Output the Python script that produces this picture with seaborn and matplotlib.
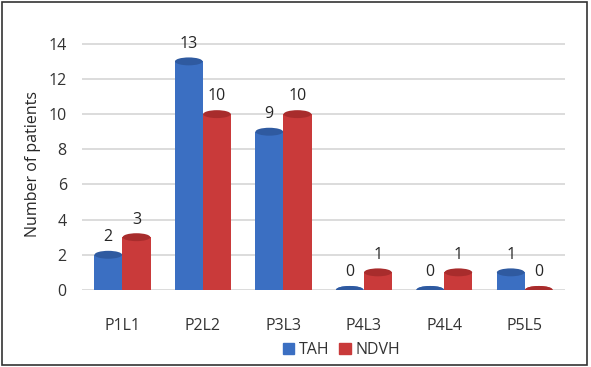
import pandas as pd
import matplotlib.pyplot as plt
import seaborn as sns
from matplotlib.patches import Ellipse, Rectangle

categories = ['P1L1', 'P2L2', 'P3L3', 'P4L3', 'P4L4', 'P5L5']
tah = [2, 13, 9, 0, 0, 1]
ndvh = [3, 10, 10, 1, 1, 0]
series = ['TAH', 'NDVH']
colors = ['#3b6fc2', '#c93a3a']
top_colors = ['#2f5aa0', '#a82c2c']

df = pd.DataFrame({
    'group': categories * 2,
    'count': tah + ndvh,
    'series': ['TAH'] * len(categories) + ['NDVH'] * len(categories),
})

sns.set_style('white')
plt.rcParams['font.family'] = ['Open Sans', 'DejaVu Sans']

fig = plt.figure(figsize=(5.91, 3.67), dpi=100)
fig.patch.set_facecolor('white')
fig.patches.append(Rectangle((0.004, 0.006), 0.99, 0.988, transform=fig.transFigure,
                             fill=False, edgecolor='#333333', linewidth=1.2))
ax = fig.add_axes([0.139, 0.21, 0.817, 0.685])

sns.barplot(data=df, x='group', y='count', hue='series', palette=colors,
            width=0.7, ax=ax, legend=False, saturation=1, linewidth=0)

ax.set_ylim(0, 14.3)
ax.set_yticks(range(0, 15, 2))
ax.yaxis.grid(True, color='#d9d9d9', linewidth=1.3)
ax.set_axisbelow(True)
for s in ax.spines.values():
    s.set_visible(False)

# cylinder caps and value labels
for i, cont in enumerate(ax.containers):
    for bar in cont:
        cx = bar.get_x() + bar.get_width() / 2
        h = bar.get_height()
        ax.add_patch(Ellipse((cx, h), bar.get_width() * 0.98, 0.45,
                             facecolor=top_colors[i], edgecolor='none', zorder=3))
        ax.add_patch(Ellipse((cx, 0), bar.get_width() * 0.98, 0.45,
                             facecolor=colors[i], edgecolor='none', zorder=2))
        ax.text(cx, h + 0.55, f'{int(h)}', ha='center', va='bottom',
                fontsize=11.5, color='#262626')

ax.set_xlabel('')
ax.set_ylabel('Number of patients', fontsize=11.5, color='#262626')
ax.yaxis.set_label_coords(-0.085, 0.5)
ax.tick_params(axis='both', labelsize=11.5, colors='#333333', length=0)
ax.tick_params(axis='y', pad=11)
ax.tick_params(axis='x', pad=20)

handles = [Rectangle((0, 0), 1, 1, color=c) for c in colors]
fig.legend(handles, series, loc='center', bbox_to_anchor=(0.578, 0.045), ncol=2,
           frameon=False, fontsize=11.5, handlelength=0.7, handleheight=0.7,
           handletextpad=0.3, columnspacing=0.6, labelcolor='#333333')

fig.savefig('out.png', dpi=100)
